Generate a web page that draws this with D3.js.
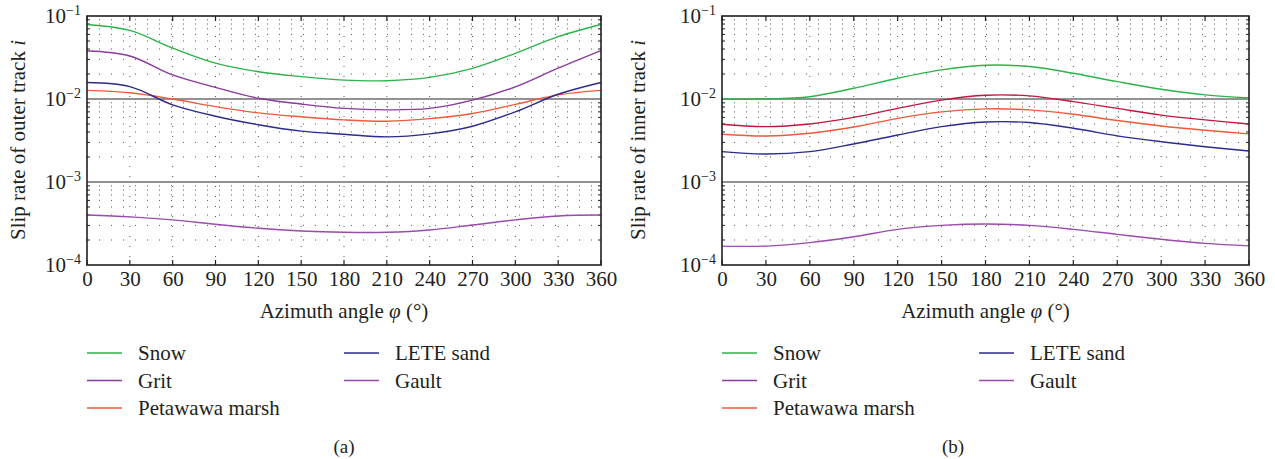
<!DOCTYPE html>
<html>
<head>
<meta charset="utf-8">
<script src="https://cdn.jsdelivr.net/npm/d3@7"></script>
<style>
  body { margin: 0; background: #fff; }
  svg text { font-family: 'Liberation Serif', 'DejaVu Serif', serif; fill: #231f20; }
</style>
</head>
<body>
<div id="svg"></div>
<script>
let w = 1275;
let h = 459;

// data
let angles = [0, 30, 60, 90, 120, 150, 180, 210, 240, 270, 300, 330, 360];
let xTicks = [0, 30, 60, 90, 120, 150, 180, 210, 240, 270, 300, 330, 360];
let yMajor = [1e-4, 1e-3, 1e-2, 1e-1];
let yExp = ['\u22124', '\u22123', '\u22122', '\u22121'];

let seriesNames = ['Snow', 'Grit', 'Petawawa marsh', 'LETE sand', 'Gault'];

// outer track (a)
let snowOuter  = [0.079, 0.067, 0.041, 0.027, 0.0213, 0.0186, 0.0169, 0.0166, 0.0182, 0.0234, 0.0355, 0.0564, 0.079];
let gritOuter  = [0.0382, 0.033, 0.0195, 0.0138, 0.0102, 0.0087, 0.0077, 0.0074, 0.0077, 0.0097, 0.014, 0.0235, 0.0382];
let petaOuter  = [0.0127, 0.0119, 0.0100, 0.0081, 0.0068, 0.0061, 0.0056, 0.0054, 0.0058, 0.0067, 0.0086, 0.0112, 0.0127];
let leteOuter  = [0.0158, 0.0141, 0.0085, 0.0062, 0.0049, 0.0041, 0.00376, 0.0035, 0.0038, 0.0047, 0.0070, 0.0114, 0.0158];
let gaultOuter = [0.0004, 0.00038, 0.00035, 0.00031, 0.000277, 0.000257, 0.000248, 0.000248, 0.000264, 0.000303, 0.00035, 0.00039, 0.0004];

// inner track (b)
let snowInner  = [0.0100, 0.0100, 0.01066, 0.01346, 0.0178, 0.0224, 0.0255, 0.0246, 0.0204, 0.0162, 0.0131, 0.0112, 0.0103];
let gritInner  = [0.00496, 0.00465, 0.0050, 0.0060, 0.0077, 0.0097, 0.0111, 0.0109, 0.0093, 0.0077, 0.0064, 0.0056, 0.0050];
let petaInner  = [0.00376, 0.00358, 0.00386, 0.0046, 0.00585, 0.0070, 0.0076, 0.0074, 0.00655, 0.0055, 0.00473, 0.0042, 0.0038];
let leteInner  = [0.00232, 0.00217, 0.00232, 0.00287, 0.00368, 0.00464, 0.00528, 0.0052, 0.00444, 0.0036, 0.00306, 0.00266, 0.00236];
let gaultInner = [0.000169, 0.000169, 0.000186, 0.000219, 0.000269, 0.0003, 0.000312, 0.0003, 0.000269, 0.000234, 0.000204, 0.000182, 0.00017];

let legendColors = ['#2db34a', '#8b3a9e', '#f05a3a', '#2b2b8c', '#9b4aad'];

let svg = d3.select('#svg')
  .append('svg')
  .attr('width', w)
  .attr('height', h);

function drawPanel(cfg) {
  let x = d3.scaleLinear().domain([0, 360]).range([cfg.left, cfg.right]);
  let y = d3.scaleLog().domain([1e-4, 1e-1]).range([265, 16]);
  let g = svg.append('g');

  // minor grid (dotted)
  let minors = [];
  [1e-4, 1e-3, 1e-2].forEach(d => { for (let k = 2; k <= 9; k++) minors.push(d * k); });
  g.selectAll('.hgrid').data(minors).enter().append('line')
    .attr('x1', x(0)).attr('x2', x(360))
    .attr('y1', d => y(d)).attr('y2', d => y(d))
    .style('stroke', '#555').style('stroke-width', 1)
    .style('stroke-dasharray', '1,11');
  g.selectAll('.vgrid').data(xTicks.slice(1, -1)).enter().append('line')
    .attr('x1', d => x(d)).attr('x2', d => x(d))
    .attr('y1', y(1e-1)).attr('y2', y(1e-4))
    .style('stroke', '#555').style('stroke-width', 1)
    .style('stroke-dasharray', '1,9');
  // major grid
  g.selectAll('.mgrid').data([1e-3, 1e-2]).enter().append('line')
    .attr('x1', x(0)).attr('x2', x(360))
    .attr('y1', d => y(d)).attr('y2', d => y(d))
    .style('stroke', '#6e6e6e').style('stroke-width', 1.6);

  // ticks inside frame
  xTicks.forEach(t => {
    g.append('line').attr('x1', x(t)).attr('x2', x(t)).attr('y1', y(1e-4)).attr('y2', y(1e-4) - 5)
      .style('stroke', '#231f20').style('stroke-width', 1.2);
    g.append('line').attr('x1', x(t)).attr('x2', x(t)).attr('y1', y(1e-1)).attr('y2', y(1e-1) + 5)
      .style('stroke', '#231f20').style('stroke-width', 1.2);
  });
  minors.forEach(m => {
    g.append('line').attr('x1', x(0)).attr('x2', x(0) + 3).attr('y1', y(m)).attr('y2', y(m))
      .style('stroke', '#231f20').style('stroke-width', 1);
    g.append('line').attr('x1', x(360)).attr('x2', x(360) - 3).attr('y1', y(m)).attr('y2', y(m))
      .style('stroke', '#231f20').style('stroke-width', 1);
  });

  // curves
  let line = d3.line()
    .x((d, i) => x(angles[i]))
    .y(d => y(d))
    .curve(d3.curveCatmullRom.alpha(0.5));
  cfg.series.forEach((s, i) => {
    g.append('path')
      .datum(s)
      .attr('d', line)
      .style('fill', 'none')
      .style('stroke', cfg.colors[i])
      .style('stroke-width', 1.4);
  });

  // frame
  g.append('rect')
    .attr('x', x(0)).attr('y', y(1e-1))
    .attr('width', x(360) - x(0)).attr('height', y(1e-4) - y(1e-1))
    .style('fill', 'none').style('stroke', '#231f20').style('stroke-width', 1.6);

  // x axis labels
  let xAxis = d3.axisBottom(x).tickValues(xTicks).tickSize(0).tickPadding(6).tickFormat(d3.format('d'));
  let xa = g.append('g').attr('transform', 'translate(0,' + y(1e-4) + ')').call(xAxis);
  xa.select('.domain').remove();
  xa.selectAll('text').style('font-size', '21px').style('font-family', "'Liberation Serif', serif").attr('fill', '#231f20');

  // y labels with superscript
  yMajor.forEach((v, i) => {
    let t = g.append('text')
      .attr('x', x(0) - 6)
      .attr('y', y(v) + 7)
      .attr('text-anchor', 'end')
      .style('font-size', '21px');
    t.append('tspan').text('10');
    t.append('tspan').attr('dy', -8).style('font-size', '14px').text(yExp[i]);
  });

  // axis titles
  let xt = g.append('text')
    .attr('x', (x(0) + x(360)) / 2)
    .attr('y', 318)
    .attr('text-anchor', 'middle')
    .style('font-size', '21px');
  xt.append('tspan').text('Azimuth angle ');
  xt.append('tspan').style('font-style', 'italic').text('\u03c6');
  xt.append('tspan').text(' (\u00b0)');

  let yt = g.append('text')
    .attr('transform', 'translate(' + (x(0) - cfg.ytOff) + ',' + 140 + ') rotate(-90)')
    .attr('text-anchor', 'middle')
    .style('font-size', '21px');
  yt.append('tspan').text(cfg.ytitle + ' ');
  yt.append('tspan').style('font-style', 'italic').text('i');

  // legend
  let cols = [cfg.left, cfg.left + 257];
  let pos = [[0, 0], [0, 1], [0, 2], [1, 0], [1, 1]];
  seriesNames.forEach((n, i) => {
    let lx = cols[pos[i][0]];
    let ly = 353 + pos[i][1] * 27.5;
    g.append('line').attr('x1', lx).attr('x2', lx + 35).attr('y1', ly).attr('y2', ly)
      .style('stroke', legendColors[i]).style('stroke-width', 1.5);
    g.append('text').attr('x', lx + 51).attr('y', ly + 7).style('font-size', '21px').text(n);
  });

  g.append('text')
    .attr('x', cfg.caption)
    .attr('y', 453)
    .attr('text-anchor', 'middle')
    .style('font-size', '19px')
    .text(cfg.label);
}

drawPanel({
  left: 87, right: 601, ytOff: 62,
  series: [snowOuter, gritOuter, petaOuter, leteOuter, gaultOuter],
  colors: ['#2db34a', '#8b3a9e', '#f05a3a', '#2b2b8c', '#9b4aad'],
  ytitle: 'Slip rate of outer track',
  label: '(a)', caption: 344
});

drawPanel({
  left: 722, right: 1249, ytOff: 77,
  series: [snowInner, gritInner, petaInner, leteInner, gaultInner],
  colors: ['#2db34a', '#c0163f', '#f05a3a', '#2b2b8c', '#9b4aad'],
  ytitle: 'Slip rate of inner track',
  label: '(b)', caption: 953
});
</script>
</body>
</html>
